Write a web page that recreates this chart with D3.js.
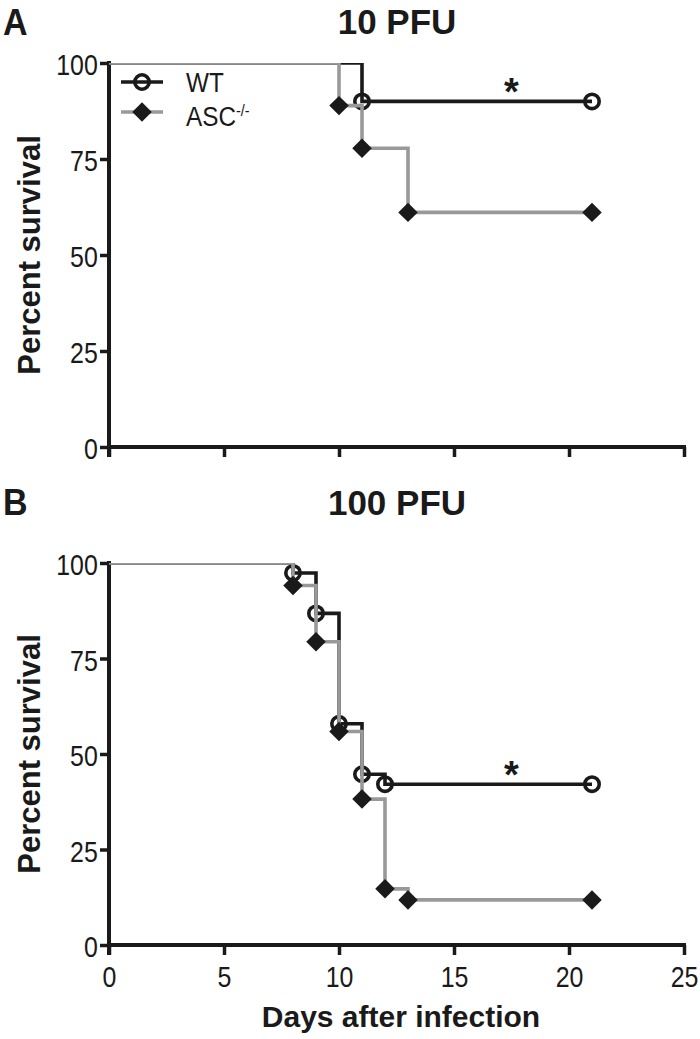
<!DOCTYPE html>
<html>
<head>
<meta charset="utf-8">
<script src="https://cdn.jsdelivr.net/npm/d3@7"></script>
<style>
  html, body { margin: 0; padding: 0; background: #fff; }
  svg text { font-family: "Liberation Sans", Arial, Helvetica, sans-serif; fill: #1a1a1a; }
</style>
</head>
<body>
<svg id="chart" width="700" height="1039"></svg>
<script>
// ---- Data ----
const xTicks = [0, 5, 10, 15, 20, 25];
const yTicks = [0, 25, 50, 75, 100];
const seriesNames = ["WT", "ASC"];

// Panel A: 10 PFU  [day, percent survival]
const wt10 = [[0, 100], [11, 90], [21, 90]];
const wt10Marks = [[11, 90], [21, 90]];
const asc10 = [[0, 100], [10, 88.9], [11, 77.8], [13, 61.1], [21, 61.1]];
const asc10Marks = [[10, 88.9], [11, 77.8], [13, 61.1], [21, 61.1]];

// Panel B: 100 PFU
const wt100 = [[0, 100], [8, 97.4], [9, 86.8], [10, 57.9], [11, 44.7], [12, 42.1], [21, 42.1]];
const wt100Marks = [[8, 97.4], [9, 86.8], [10, 57.9], [11, 44.7], [12, 42.1], [21, 42.1]];
const asc100 = [[0, 100], [8, 94.1], [9, 79.4], [10, 55.9], [11, 38.2], [12, 14.7], [13, 11.8], [21, 11.8]];
const asc100Marks = [[8, 94.1], [9, 79.4], [10, 55.9], [11, 38.2], [12, 14.7], [13, 11.8], [21, 11.8]];

const panels = [
  { letter: "A", title: "10 PFU", top: 63, bottom: 447, wt: wt10, wtM: wt10Marks, asc: asc10, ascM: asc10Marks,
    star: [17.5, 95], legend: true, xLabels: false, titleY: 34, letterY: 35 },
  { letter: "B", title: "100 PFU", top: 563, bottom: 945, wt: wt100, wtM: wt100Marks, asc: asc100, ascM: asc100Marks,
    star: [17.5, 47], legend: false, xLabels: true, titleY: 515, letterY: 515 }
];

const BLACK = "#1a1a1a", GREY = "#999999";
const SX = 0.86; // horizontal compression of the narrow lettering
const svg = d3.select("#chart");
const x = d3.scaleLinear().domain([0, 25]).range([109, 684]);

// text helper with horizontal compression about its anchor point
function ntext(sel, tx, ty, size, sx, weight) {
  return sel.append("text")
    .attr("transform", `translate(${tx},${ty}) scale(${sx},1)`)
    .attr("font-size", size).attr("font-weight", weight || "normal");
}

panels.forEach((p, i) => {
  const y = d3.scaleLinear().domain([0, 100]).range([p.bottom, p.top]);
  const g = svg.append("g");

  // clip at plot area top
  const clipId = "clip" + i;
  svg.append("clipPath").attr("id", clipId).append("rect")
    .attr("x", 0).attr("y", p.top).attr("width", 700).attr("height", p.bottom - p.top + 20);

  // axes
  const xAxis = d3.axisBottom(x).tickValues(xTicks).tickSize(10).tickSizeOuter(0)
    .tickFormat(p.xLabels ? d3.format("d") : () => "");
  const gx = g.append("g").attr("transform", `translate(0,${p.bottom})`).call(xAxis);
  const yAxis = d3.axisLeft(y).tickValues(yTicks).tickSize(9).tickSizeOuter(0).tickPadding(4);
  const gy = g.append("g").attr("transform", `translate(${x(0)},0)`).call(yAxis);
  [gx, gy].forEach(a => {
    a.select(".domain").remove();
    a.selectAll(".tick line").attr("stroke", BLACK).attr("stroke-width", 3.5);
    a.selectAll(".tick text").attr("font-size", 29).attr("fill", BLACK)
      .attr("transform", `scale(${SX},1)`);
  });
  gx.selectAll(".tick text").attr("y", 42).attr("dy", 0);
  gy.selectAll(".tick text").attr("dy", "0.40em");
  // axis lines
  g.append("line").attr("x1", x(0) - 2).attr("x2", x(25) + 2).attr("y1", p.bottom).attr("y2", p.bottom)
    .attr("stroke", BLACK).attr("stroke-width", 4);
  g.append("line").attr("x1", x(0)).attr("x2", x(0)).attr("y1", p.top - 2).attr("y2", p.bottom + 10)
    .attr("stroke", BLACK).attr("stroke-width", 4);

  // step lines
  const line = d3.line().x(d => x(d[0])).y(d => y(d[1])).curve(d3.curveStepAfter);
  const drawSeries = (data, marks, color, shape) => {
    g.append("path").datum(data).attr("d", line).attr("fill", "none")
      .attr("stroke", color).attr("stroke-width", 3.6).attr("clip-path", `url(#${clipId})`);
    if (shape === "circle") {
      g.selectAll(null).data(marks).join("circle")
        .attr("cx", d => x(d[0])).attr("cy", d => y(d[1])).attr("r", 7.2)
        .attr("fill", "none").attr("stroke", BLACK).attr("stroke-width", 3.6);
    } else {
      g.selectAll(null).data(marks).join("path")
        .attr("d", d3.symbol(d3.symbolSquare, 190))
        .attr("transform", d => `translate(${x(d[0])},${y(d[1])}) rotate(45)`)
        .attr("fill", BLACK);
    }
  };
  drawSeries(p.wt, p.wtM, BLACK, "circle");
  drawSeries(p.asc, p.ascM, GREY, "diamond");

  // asterisk
  g.append("text").attr("x", x(p.star[0])).attr("y", y(p.star[1]) + 23).attr("text-anchor", "middle")
    .attr("font-size", 38).attr("font-weight", "bold").text("*");

  // title and panel letter
  g.append("text").attr("x", 397).attr("y", p.titleY).attr("text-anchor", "middle")
    .attr("font-size", 35).attr("font-weight", "bold").text(p.title);
  ntext(g, 3, p.letterY, 37, 0.92, "bold").text(p.letter);

  // y axis title
  g.append("text").attr("transform", `translate(40,${(p.top + p.bottom) / 2}) rotate(-90)`)
    .attr("text-anchor", "middle").attr("font-size", 31).attr("font-weight", "bold").text("Percent survival");

  // legend
  if (p.legend) {
    const lg = g.append("g");
    const rows = [{ name: seriesNames[0], color: BLACK, shape: "circle", yy: 82, ty: 92 },
                  { name: seriesNames[1], color: GREY, shape: "diamond", yy: 112, ty: 126 }];
    rows.forEach(r => {
      lg.append("line").attr("x1", 121).attr("x2", 163).attr("y1", r.yy).attr("y2", r.yy)
        .attr("stroke", r.color).attr("stroke-width", 3.6);
      if (r.shape === "circle") {
        lg.append("circle").attr("cx", 142).attr("cy", r.yy).attr("r", 7.2).attr("fill", "none")
          .attr("stroke", BLACK).attr("stroke-width", 3.6);
      } else {
        lg.append("path").attr("d", d3.symbol(d3.symbolSquare, 190))
          .attr("transform", `translate(142,${r.yy}) rotate(45)`).attr("fill", BLACK);
      }
      const t = ntext(lg, 186, r.ty, 27, 0.9);
      t.append("tspan").text(r.name);
      if (r.name === "ASC") t.append("tspan").attr("dy", -10).attr("font-size", 16).text("-/-");
    });
  }
});

// x axis title
svg.append("text").attr("x", 401).attr("y", 1027).attr("text-anchor", "middle")
  .attr("font-size", 30).attr("font-weight", "bold").text("Days after infection");
</script>
</body>
</html>
